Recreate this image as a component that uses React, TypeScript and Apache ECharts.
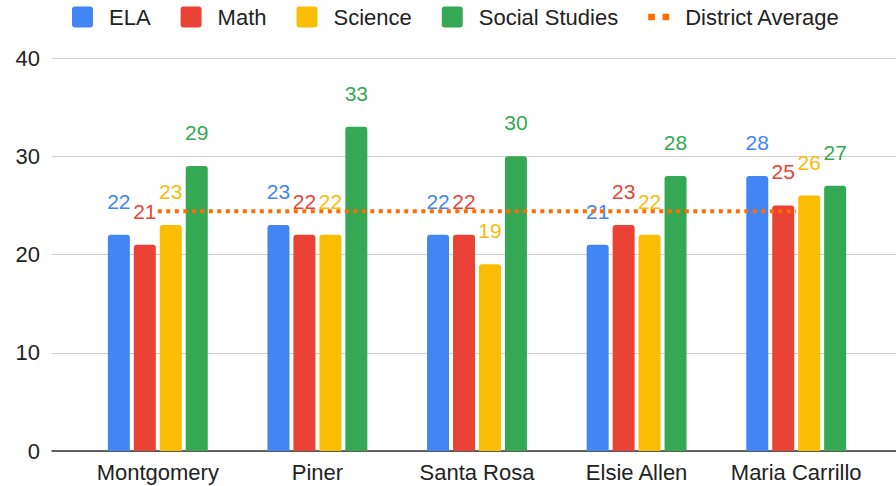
import React, { useEffect, useRef } from "react";
import * as echarts from "echarts";

const categories = ["Montgomery", "Piner", "Santa Rosa", "Elsie Allen", "Maria Carrillo"];
const elaValues = [22, 23, 22, 21, 28];
const mathValues = [21, 22, 22, 23, 25];
const scienceValues = [23, 22, 19, 22, 26];
const socialValues = [29, 33, 30, 28, 27];
const districtAverage = [24.4, 24.4, 24.4, 24.4, 24.4];
const yTicks = { min: 0, max: 40, interval: 10 };

const FONT = "'Liberation Sans', Arial, Helvetica, sans-serif";
const COLORS = {
  ela: "#4285F4",
  math: "#EA4335",
  science: "#FBBC04",
  social: "#34A853",
  avg: "#FF6D01",
};

const SQUARE_ICON =
  "path://M3,0h15a3,3 0 0 1 3,3v15a3,3 0 0 1 -3,3h-15a3,3 0 0 1 -3,-3v-15a3,3 0 0 1 3,-3z";

function barSeries(name: string, data: number[], color: string) {
  return {
    name,
    type: "bar",
    xAxisIndex: 1,
    yAxisIndex: 1,
    data,
    barWidth: 22,
    barGap: "18%",
    itemStyle: { color, borderRadius: [3, 3, 0, 0] },
    label: {
      show: true,
      position: "top",
      distance: 23,
      color,
      fontSize: 21,
      fontFamily: FONT,
    },
  };
}

export default function App() {
  const ref = useRef<HTMLDivElement>(null);
  useEffect(() => {
    document.body.style.margin = "0";
    if (!ref.current) return;
    const chart = echarts.init(ref.current, undefined, { renderer: "svg" });
    chart.setOption({
      animation: false,
      backgroundColor: "#ffffff",
      textStyle: { fontFamily: FONT },
      legend: {
        top: 6,
        left: 72,
        padding: 0,
        itemWidth: 21,
        itemHeight: 21,
        itemGap: 30,
        textStyle: { fontSize: 22, color: "#222", fontFamily: FONT, padding: [0, 0, 0, 11] },
        data: [
          { name: "ELA", icon: SQUARE_ICON },
          { name: "Math", icon: SQUARE_ICON },
          { name: "Science", icon: SQUARE_ICON },
          { name: "Social Studies", icon: SQUARE_ICON },
          { name: "District Average", icon: "path://M0,0h7v7h-7zM15,0h7v7h-7z" },
        ],
      },
      grid: [
        { left: 52, right: 0, top: 58, bottom: 35 },
        { left: 78, right: 20, top: 58, bottom: 35 },
      ],
      xAxis: [
        {
          type: "category",
          gridIndex: 0,
          data: [""],
          axisLine: { show: true, lineStyle: { color: "#333", width: 1.5 } },
          axisTick: { show: false },
          axisLabel: { show: false },
        },
        {
          type: "category",
          gridIndex: 1,
          data: categories,
          axisLine: { show: false },
          axisTick: { show: false },
          axisLabel: { interval: 0, fontSize: 22, color: "#222", margin: 10, fontFamily: FONT },
        },
      ],
      yAxis: [
        {
          type: "value",
          gridIndex: 0,
          min: yTicks.min,
          max: yTicks.max,
          interval: yTicks.interval,
          axisLine: { show: false },
          axisTick: { show: false },
          axisLabel: { fontSize: 22, color: "#222", margin: 12, fontFamily: FONT },
          splitLine: { lineStyle: { color: "#d0d0d0", width: 1 } },
        },
        {
          type: "value",
          gridIndex: 1,
          min: yTicks.min,
          max: yTicks.max,
          interval: yTicks.interval,
          show: false,
          splitLine: { show: false },
        },
      ],
      series: [
        barSeries("ELA", elaValues, COLORS.ela),
        barSeries("Math", mathValues, COLORS.math),
        barSeries("Science", scienceValues, COLORS.science),
        barSeries("Social Studies", socialValues, COLORS.social),
        {
          name: "District Average",
          type: "line",
          xAxisIndex: 1,
          yAxisIndex: 1,
          data: districtAverage,
          symbol: "none",
          showSymbol: false,
          z: 5,
          itemStyle: { color: COLORS.avg },
          lineStyle: { color: COLORS.avg, width: 4, type: [4, 4.5], cap: "butt" },
        },
      ],
    });
    return () => chart.dispose();
  }, []);
  return <div ref={ref} style={{ width: 896, height: 486 }} />;
}
